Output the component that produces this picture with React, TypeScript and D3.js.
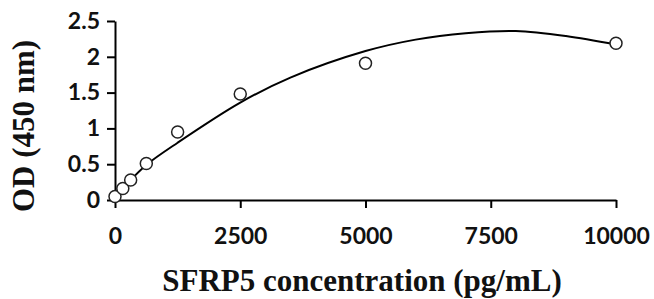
import React, { useEffect, useRef } from 'react';
import * as d3 from 'd3';

// standard concentrations (pg/mL) and measured OD
const concentrations = [0, 156, 312.5, 625, 1250, 2500, 5000, 10000];
const odValues = [0.05, 0.16, 0.28, 0.51, 0.95, 1.48, 1.91, 2.19];

// trendline
const fitX = [0, 300, 625, 1250, 2500, 3500, 5000, 6000, 7000, 8000, 9000, 10000];
const fitY = [0.02, 0.27, 0.49, 0.80, 1.36, 1.71, 2.08, 2.24, 2.33, 2.36, 2.29, 2.17];

const xTicks = [0, 2500, 5000, 7500, 10000];
const yTicks = [0, 0.5, 1, 1.5, 2, 2.5];

const App: React.FC = () => {
    const svgRef = useRef<SVGSVGElement>(null);

    useEffect(() => {
        if (!svgRef.current) return;
        const svg = d3.select(svgRef.current);
        svg.selectAll('*').remove();

        const x = d3.scaleLinear().domain([0, 10000]).range([115, 616]);
        const y = d3.scaleLinear().domain([0, 2.5]).range([200, 21]);

        const tickFont = 'Lato, "Open Sans", sans-serif';
        const titleFont = '"Liberation Serif", "DejaVu Serif", serif';

        // x axis
        const xAxis = svg.append('g')
            .attr('transform', `translate(0,${y(0)})`)
            .call(d3.axisBottom(x).tickValues(xTicks).tickSize(8).tickSizeOuter(0).tickPadding(20).tickFormat(d3.format('d')));
        xAxis.select('.domain').attr('stroke', '#000').attr('stroke-width', 2);
        xAxis.selectAll('.tick line').attr('stroke', '#000').attr('stroke-width', 2);
        xAxis.selectAll('.tick text')
            .attr('font-family', tickFont)
            .attr('font-weight', 700)
            .attr('font-size', 23)
            .attr('fill', '#111');

        // y axis
        const yAxis = svg.append('g')
            .attr('transform', `translate(${x(0)},0)`)
            .call(d3.axisLeft(y).tickValues(yTicks).tickSize(8).tickSizeOuter(0).tickPadding(7).tickFormat(d => String(d)));
        yAxis.select('.domain').attr('stroke', '#000').attr('stroke-width', 2);
        yAxis.selectAll('.tick line').attr('stroke', '#000').attr('stroke-width', 2);
        yAxis.selectAll('.tick text')
            .attr('font-family', tickFont)
            .attr('font-weight', 700)
            .attr('font-size', 23)
            .attr('fill', '#111');

        // trendline
        const line = d3.line<number>()
            .x((_, i) => x(fitX[i]))
            .y(d => y(d))
            .curve(d3.curveCatmullRom);
        svg.append('path')
            .datum(fitY)
            .attr('d', line)
            .attr('fill', 'none')
            .attr('stroke', '#000')
            .attr('stroke-width', 2);

        // data points
        svg.append('g')
            .selectAll('circle')
            .data(odValues)
            .join('circle')
            .attr('cx', (_, i) => x(concentrations[i]))
            .attr('cy', d => y(d))
            .attr('r', 6)
            .attr('fill', '#fff')
            .attr('stroke', '#222')
            .attr('stroke-width', 1.5);

        // axis titles
        svg.append('text')
            .attr('x', 362)
            .attr('y', 291)
            .attr('text-anchor', 'middle')
            .attr('font-family', titleFont)
            .attr('font-weight', 700)
            .attr('font-size', 31)
            .attr('fill', '#111')
            .text('SFRP5 concentration (pg/mL)');

        svg.append('text')
            .attr('transform', 'translate(34,126) rotate(-90)')
            .attr('text-anchor', 'middle')
            .attr('font-family', titleFont)
            .attr('font-weight', 700)
            .attr('font-size', 31)
            .attr('fill', '#111')
            .text('OD (450 nm)');
    }, []);

    return (
        <svg ref={svgRef} width={654} height={299} viewBox="0 0 654 299"
             style={{ position: 'absolute', left: 0, top: 0, background: '#fff' }} />
    );
};

export default App;
